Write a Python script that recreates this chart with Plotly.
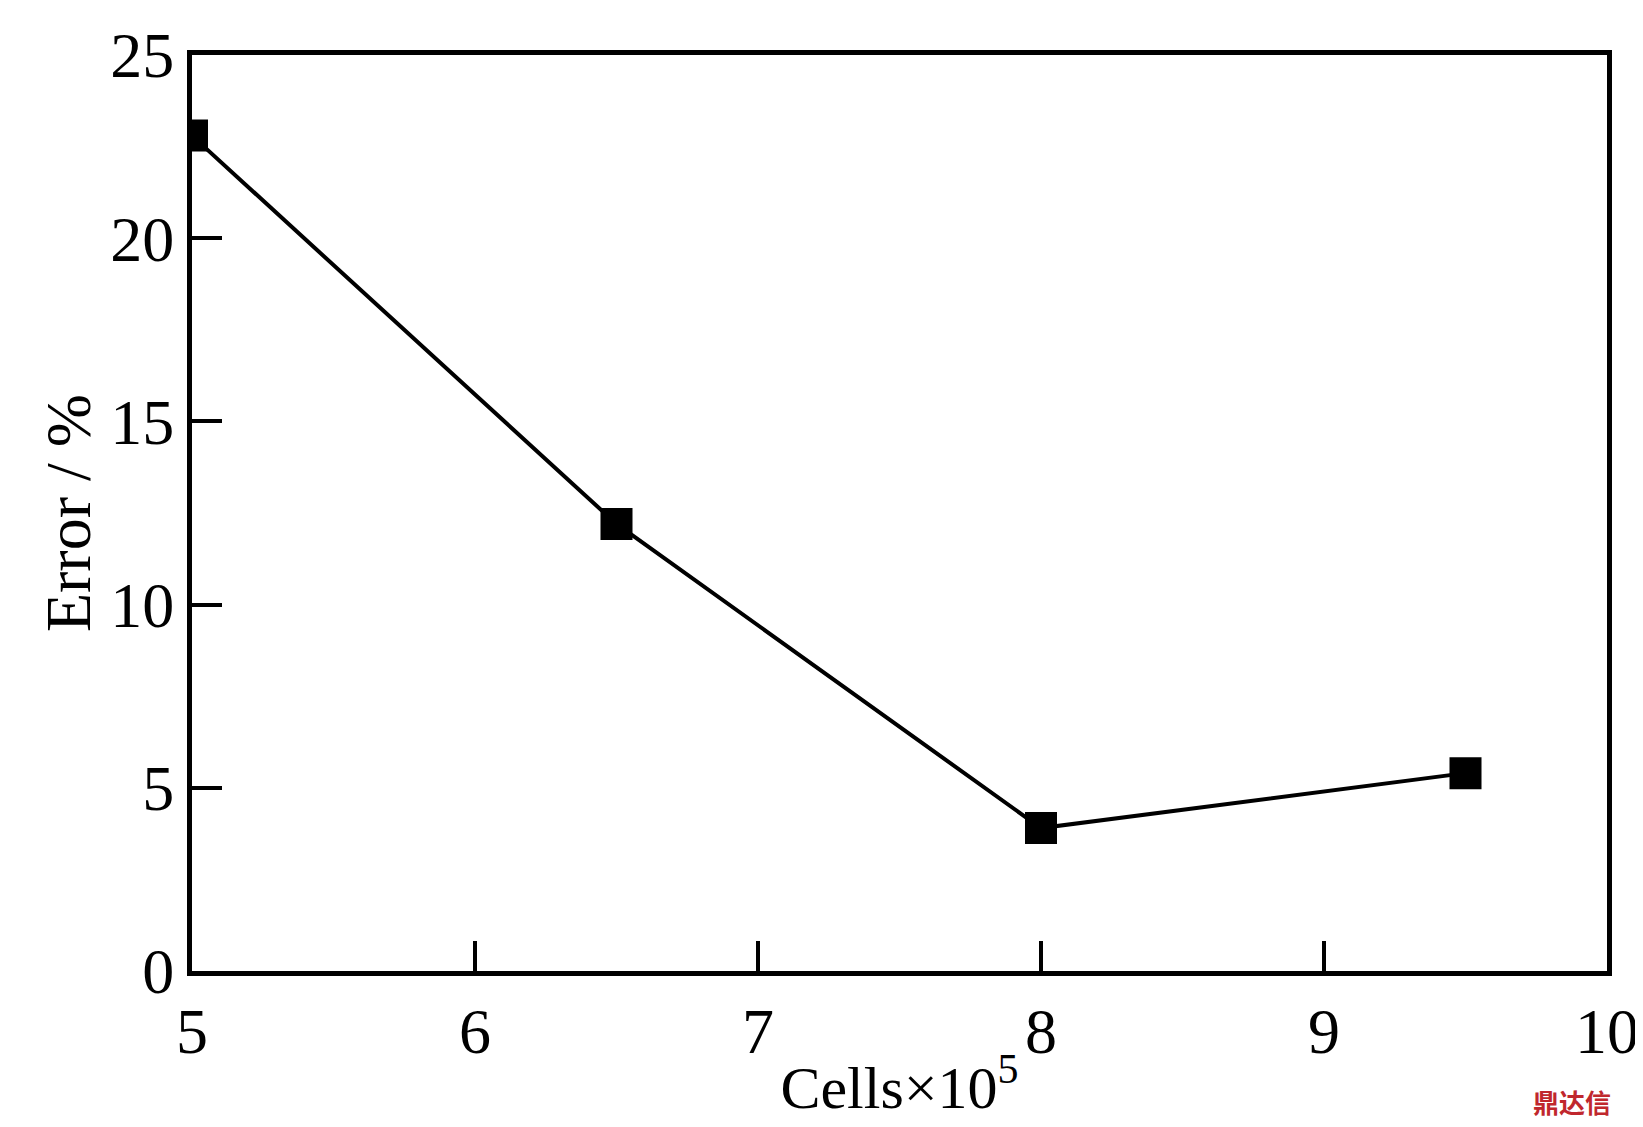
import plotly.graph_objects as go

cells = [5, 6.5, 8, 9.5]
error = [22.8, 12.2, 3.9, 5.4]

fig = go.Figure()
fig.add_trace(go.Scatter(x=cells, y=error, mode='lines+markers',
                         line=dict(color='black', width=4),
                         marker=dict(symbol='square', size=32, color='black')))

axis_style = dict(showline=True, linecolor='black', linewidth=5, mirror=True,
                  ticks='inside', ticklen=30, tickwidth=4, tickcolor='black',
                  showgrid=False, zeroline=False,
                  tickfont=dict(family='Liberation Serif', size=64, color='black'))

fig.update_xaxes(range=[5, 10], dtick=1, title=dict(text='Cells×10<sup>5</sup>', standoff=2,
                 font=dict(family='Liberation Serif', size=60, color='black')), **axis_style)
fig.update_yaxes(range=[0, 25], tickvals=[0, 5, 10, 15, 20, 25], title=dict(text='Error / %', standoff=0,
                 font=dict(family='Liberation Serif', size=64, color='black')), **axis_style)

fig.add_annotation(text='<b>鼎达信</b>', xref='paper', yref='paper', x=0.975, y=-0.143,
                   xanchor='center', yanchor='middle',
                   showarrow=False, font=dict(family='Noto Sans CJK SC', size=26, color='#c0272d'))

fig.update_layout(width=1643, height=1127, plot_bgcolor='white', paper_bgcolor='white',
                  showlegend=False, margin=dict(l=184, r=40, t=36, b=164))

fig.write_html("out.html")
